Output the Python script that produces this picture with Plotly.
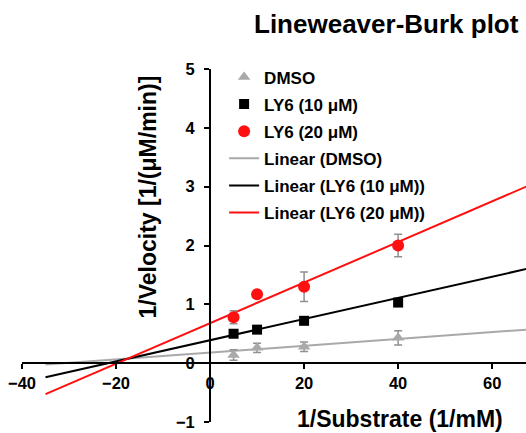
import plotly.graph_objects as go

# ---- data ----
substrate = [5, 10, 20, 40]
dmso = [0.14, 0.26, 0.28, 0.43]
dmso_err = [0.09, 0.08, 0.08, 0.12]
ly6_10 = [0.50, 0.57, 0.72, 1.03]
ly6_10_err = [0.04, 0.04, 0.04, 0.04]
ly6_20 = [0.78, 1.17, 1.30, 2.00]
ly6_20_err = [0.11, 0.05, 0.25, 0.19]

# linear fits (slope, intercept) as displayed
fit_dmso = (0.0058, 0.18)
fit_10 = (0.0180, 0.39)
fit_20 = (0.0345, 0.68)
fit_x = [-35, 70]

names = ["DMSO", "LY6 (10 μM)", "LY6 (20 μM)",
         "Linear (DMSO)", "Linear (LY6 (10 μM))", "Linear (LY6 (20 μM))"]

FONT = "Liberation Sans, Arial, sans-serif"
GRAY = "#a9a9a9"
RED = "#ff1010"

x_range = [-40, 67.2]
y_range = [-1, 5]

fig = go.Figure()

def err(vals, color):
    return dict(type="data", array=vals, visible=True, color=color, thickness=1.5, width=4)

fig.add_trace(go.Scatter(x=substrate, y=dmso, mode="markers", name=names[0], legendgroup="a",
                         marker=dict(symbol="triangle-up", size=11, color=GRAY),
                         error_y=err(dmso_err, "#909090")))
fig.add_trace(go.Scatter(x=substrate, y=ly6_10, mode="markers", name=names[1], legendgroup="b",
                         marker=dict(symbol="square", size=10, color="black"),
                         error_y=err(ly6_10_err, "#909090")))
fig.add_trace(go.Scatter(x=substrate, y=ly6_20, mode="markers", name=names[2], legendgroup="c",
                         marker=dict(symbol="circle", size=12, color=RED),
                         error_y=err(ly6_20_err, "#909090")))

for (s, b), nm, col, g in [(fit_dmso, names[3], GRAY, "d"), (fit_10, names[4], "black", "e"),
                           (fit_20, names[5], RED, "f")]:
    fig.add_trace(go.Scatter(x=fit_x, y=[s * xx + b for xx in fit_x], mode="lines", name=nm,
                             legendgroup=g, line=dict(color=col, width=2)))

# lines drawn beneath markers, legend order kept
fig.data = fig.data[3:] + fig.data[:3]
for i, tr in enumerate(fig.data):
    tr.legendrank = [4, 5, 6, 1, 2, 3][i]

xpos = (0 - x_range[0]) / (x_range[1] - x_range[0])
ypos = (0 - y_range[0]) / (y_range[1] - y_range[0])

tickfont = dict(family=FONT, size=16.5, color="black", weight="bold")

fig.update_layout(
    width=526, height=433,
    margin=dict(l=22, r=0, t=69, b=11),
    paper_bgcolor="white", plot_bgcolor="white",
    showlegend=True,
    legend=dict(x=0.401, y=1.027, xanchor="left", yanchor="top",
                font=dict(family=FONT, size=17, color="black", weight="bold"),
                bgcolor="rgba(0,0,0,0)", tracegroupgap=2, traceorder="grouped"),
    xaxis=dict(range=x_range, domain=[0, 1], anchor="free", position=ypos,
               showline=True, linecolor="black", linewidth=2,
               ticks="outside", ticklen=5, tickwidth=2, tickcolor="black",
               tickvals=[-40, -20, 0, 20, 40, 60], tickfont=tickfont,
               showgrid=False, zeroline=False),
    yaxis=dict(range=y_range, domain=[0, 1], anchor="free", position=xpos,
               showline=True, linecolor="black", linewidth=2,
               ticks="outside", ticklen=5, tickwidth=2, tickcolor="black",
               tickvals=[-1, 0, 1, 2, 3, 4, 5], tickfont=tickfont, ticklabelstandoff=6,
               showgrid=False, zeroline=False),
    annotations=[
        dict(text="<b>Lineweaver-Burk plot</b>", xref="paper", yref="paper",
             x=(386.5 - 22) / 504, y=(422 - 24) / 353, xanchor="center", yanchor="middle",
             showarrow=False, font=dict(family=FONT, size=26, color="black")),
        dict(text="<b>1/Substrate (1/mM)</b>", xref="paper", yref="paper",
             x=(399.5 - 22) / 504, y=(422 - 419) / 353, xanchor="center", yanchor="middle",
             showarrow=False, font=dict(family=FONT, size=23, color="black")),
        dict(text="<b>1/Velocity [1/(μM/min)]</b>", xref="paper", yref="paper",
             x=(147.5 - 22) / 504, y=(422 - 197) / 353, xanchor="center", yanchor="middle",
             textangle=-90, showarrow=False, font=dict(family=FONT, size=23, color="black")),
    ],
)

fig.write_html("out.html")
